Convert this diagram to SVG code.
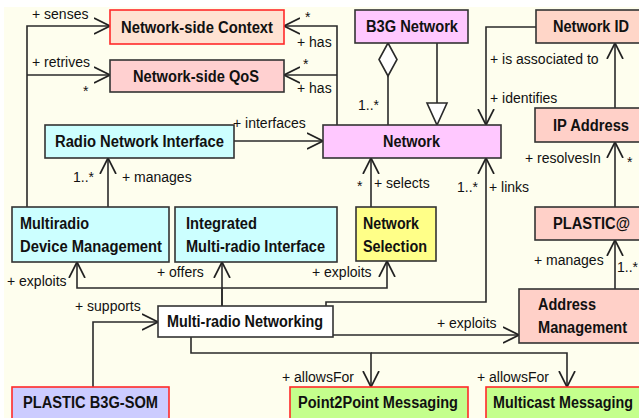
<svg xmlns="http://www.w3.org/2000/svg" width="639" height="418" viewBox="0 0 639 418">
<defs>
<style>
.box{stroke:#333;stroke-width:1.6}
.red{stroke:#ff2a2a}
.b{font-family:"Liberation Sans",Arial,sans-serif;font-weight:bold;font-size:16px;fill:#111}
.t{font-family:"Liberation Sans",Arial,sans-serif;font-size:14px;fill:#111}
.c{fill:none;stroke:#2a2a2a;stroke-width:1.6}
.a{marker-end:url(#arr)}
.w{fill:#fff;stroke:#2a2a2a;stroke-width:1.6}
</style>
<marker id="arr" viewBox="0 0 17 18" refX="16" refY="9" markerWidth="17" markerHeight="18" orient="auto" markerUnits="userSpaceOnUse">
<path d="M0,1 L16,9 L0,17" fill="none" stroke="#222" stroke-width="1.7"/>
</marker>
</defs>
<rect x="0" y="0" width="639" height="418" fill="#fff"/>
<rect x="4" y="7" width="635" height="411" fill="#fefeee"/>

<g id="connectors">
<path class="c a" d="M27,207 V26 H110"/>
<path class="c a" d="M27,75 H110"/>
<path class="c a" d="M337,125 V26 H284"/>
<path class="c a" d="M337,75 H284"/>
<path class="c" d="M388,125 V76"/>
<polygon class="w" points="388,43 397,59.5 388,76 379,59.5"/>
<path class="c" d="M437,43 V103"/>
<polygon class="w" points="427,103 447,103 437,125"/>
<path class="c a" d="M536,27 H486 V125"/>
<path class="c a" d="M615,108 V43"/>
<path class="c a" d="M615,207 V142"/>
<path class="c a" d="M615,289 V240"/>
<path class="c a" d="M234,141 H323"/>
<path class="c a" d="M108,207 V158"/>
<path class="c a" d="M371,207 V158"/>
<path class="c a" d="M326,306 V302 H486 V158"/>
<path class="c a" d="M222,306 V288 H77 V262"/>
<path class="c a" d="M222,306 V262"/>
<path class="c a" d="M222,288 H387 V261"/>
<path class="c a" d="M93,387 V322 H158"/>
<path class="c a" d="M333,335 H519"/>
<path class="c a" d="M191,337 V353 H371 V387"/>
<path class="c a" d="M371,353 H567 V387"/>
<text class="t" x="32" y="19">+ senses</text>
<text class="t" x="32" y="67">+ retrives</text>
<text class="t" x="83" y="96">*</text>
<text class="t" x="305" y="22">*</text>
<text class="t" x="297" y="47">+ has</text>
<text class="t" x="303" y="69">*</text>
<text class="t" x="297" y="93">+ has</text>
<text class="t" x="358" y="110">1..*</text>
<text class="t" x="490" y="64">+ is associated to</text>
<text class="t" x="490" y="103">+ identifies</text>
<text class="t" x="233" y="128">+ interfaces</text>
<text class="t" x="73" y="182">1..*</text>
<text class="t" x="122" y="182">+ manages</text>
<text class="t" x="357" y="191">*</text>
<text class="t" x="374" y="188">+ selects</text>
<text class="t" x="457" y="192">1..*</text>
<text class="t" x="489" y="192">+ links</text>
<text class="t" x="525" y="163">+ resolvesIn</text>
<text class="t" x="627" y="167">*</text>
<text class="t" x="534" y="265">+ manages</text>
<text class="t" x="617" y="272">1..*</text>
<text class="t" x="7" y="286">+ exploits</text>
<text class="t" x="157" y="277">+ offers</text>
<text class="t" x="312" y="277">+ exploits</text>
<text class="t" x="75" y="311">+ supports</text>
<text class="t" x="437" y="328">+ exploits</text>
<text class="t" x="282" y="382">+ allowsFor</text>
<text class="t" x="477" y="382">+ allowsFor</text>
</g>

<g id="context"><rect class="box red" x="110" y="10" width="174" height="34" fill="#ffe2d2"/><text class="b" x="121" y="33" textLength="152" lengthAdjust="spacingAndGlyphs">Network-side Context</text></g>
<g id="qos"><rect class="box" x="110" y="60" width="174" height="32" fill="#ffd0d0"/><text class="b" x="133" y="82" textLength="126" lengthAdjust="spacingAndGlyphs">Network-side QoS</text></g>
<g id="b3g"><rect class="box" x="355" y="10" width="113" height="33" fill="#ffc8ff"/><text class="b" x="366" y="32" textLength="92" lengthAdjust="spacingAndGlyphs">B3G Network</text></g>
<g id="netid"><rect class="box" x="536" y="10" width="112" height="33" fill="#ffd6c8"/><text class="b" x="553" y="32" textLength="76" lengthAdjust="spacingAndGlyphs">Network ID</text></g>
<g id="rni"><rect class="box" x="45" y="125" width="189" height="33" fill="#ccffff"/><text class="b" x="55" y="147" textLength="169" lengthAdjust="spacingAndGlyphs">Radio Network Interface</text></g>
<g id="network"><rect class="box" x="323" y="125" width="178" height="33" fill="#ffc8ff"/><text class="b" x="383" y="147" textLength="57" lengthAdjust="spacingAndGlyphs">Network</text></g>
<g id="ip"><rect class="box" x="535" y="108" width="112" height="34" fill="#ffd0c8"/><text class="b" x="553" y="131" textLength="76" lengthAdjust="spacingAndGlyphs">IP Address</text></g>
<g id="mdm"><rect class="box" x="12" y="207" width="157" height="55" fill="#ccffff"/><text class="b" x="20" y="229" textLength="69" lengthAdjust="spacingAndGlyphs">Multiradio</text><text class="b" x="20" y="252" textLength="142" lengthAdjust="spacingAndGlyphs">Device Management</text></g>
<g id="imi"><rect class="box" x="175" y="207" width="162" height="55" fill="#ccffff"/><text class="b" x="186" y="229" textLength="71" lengthAdjust="spacingAndGlyphs">Integrated</text><text class="b" x="186" y="252" textLength="139" lengthAdjust="spacingAndGlyphs">Multi-radio Interface</text></g>
<g id="ns"><rect class="box" x="356" y="207" width="80" height="54" fill="#ffff88"/><text class="b" x="363" y="229" textLength="56" lengthAdjust="spacingAndGlyphs">Network</text><text class="b" x="363" y="252" textLength="64" lengthAdjust="spacingAndGlyphs">Selection</text></g>
<g id="plastic"><rect class="box" x="535" y="207" width="112" height="33" fill="#ffd0c8"/><text class="b" x="553" y="229" textLength="77" lengthAdjust="spacingAndGlyphs">PLASTIC@</text></g>
<g id="am"><rect class="box" x="519" y="289" width="128" height="54" fill="#ffd0c8"/><text class="b" x="538" y="310" textLength="58" lengthAdjust="spacingAndGlyphs">Address</text><text class="b" x="538" y="333" textLength="89" lengthAdjust="spacingAndGlyphs">Management</text></g>
<g id="mrn"><rect class="box" x="158" y="306" width="175" height="31" fill="#ffffff"/><text class="b" x="167" y="327" textLength="156" lengthAdjust="spacingAndGlyphs">Multi-radio Networking</text></g>
<g id="som"><rect class="box red" x="12" y="387" width="157" height="40" fill="#ccccff"/><text class="b" x="23" y="408" textLength="135" lengthAdjust="spacingAndGlyphs">PLASTIC B3G-SOM</text></g>
<g id="p2p"><rect class="box red" x="290" y="387" width="178" height="40" fill="#c4ff8c"/><text class="b" x="298" y="408" textLength="160" lengthAdjust="spacingAndGlyphs">Point2Point Messaging</text></g>
<g id="mc"><rect class="box red" x="486" y="387" width="160" height="40" fill="#c4ff8c"/><text class="b" x="493" y="408" textLength="140" lengthAdjust="spacingAndGlyphs">Multicast Messaging</text></g>
</svg>
